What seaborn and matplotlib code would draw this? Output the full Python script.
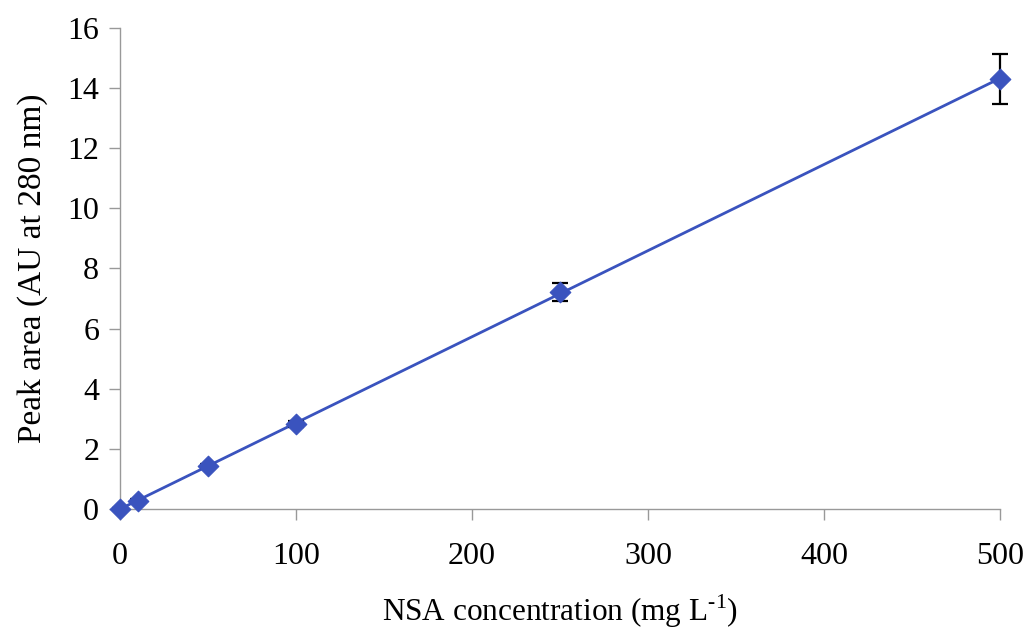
import matplotlib
matplotlib.use("Agg")
import matplotlib.pyplot as plt
import seaborn as sns
import numpy as np
import pandas as pd

conc = [0, 10, 50, 100, 250, 500]
area = [0.0, 0.28, 1.42, 2.84, 7.22, 14.3]
err = [0.02, 0.04, 0.06, 0.10, 0.30, 0.82]
xticks = [0, 100, 200, 300, 400, 500]
yticks = [0, 2, 4, 6, 8, 10, 12, 14, 16]

sns.set_theme(style="white")
plt.rcParams['font.family'] = ['Liberation Serif', 'DejaVu Serif']
plt.rcParams['mathtext.fontset'] = 'custom'
plt.rcParams['mathtext.rm'] = 'Liberation Serif'

df = pd.DataFrame({"conc": conc, "area": area, "err": err})
blue = "#3A53BE"

fig = plt.figure(figsize=(10.28, 6.36), dpi=100)
ax = fig.add_axes([0.1167, 0.1997, 0.856, 0.7563])

sns.regplot(data=df, x="conc", y="area", ax=ax, ci=None, scatter=False,
            truncate=True, line_kws=dict(color=blue, lw=2, zorder=2))
ax.errorbar(df["conc"], df["area"], yerr=df["err"], fmt="none",
            ecolor="black", elinewidth=1.6, capsize=6, capthick=1.6, zorder=3,
            clip_on=False)
sns.scatterplot(data=df, x="conc", y="area", ax=ax, marker="D", s=110,
                color=blue, edgecolor=blue, zorder=4, clip_on=False)

ax.set_xlim(0, 500)
ax.set_ylim(0, 16)
ax.set_xticks(xticks)
ax.set_yticks(yticks)
ax.tick_params(axis="both", labelsize=23, colors="black", length=8,
               width=1, direction="out", bottom=True, left=True)
ax.tick_params(axis="x", pad=16)
ax.tick_params(axis="y", pad=7)
ax.tick_params(axis="both", color="#999999")
for s in ["top", "right"]:
    ax.spines[s].set_visible(False)
for s in ["left", "bottom"]:
    ax.spines[s].set_color("#999999")
    ax.spines[s].set_linewidth(1)

ax.set_xlabel(r"NSA concentration (mg L$^{\mathrm{\text{-1}}}$)", fontsize=22.5,
              labelpad=15, color="black")
ax.set_ylabel("Peak area (AU at 280 nm)", fontsize=24, labelpad=14, color="black")

fig.savefig("out.png", dpi=100)
